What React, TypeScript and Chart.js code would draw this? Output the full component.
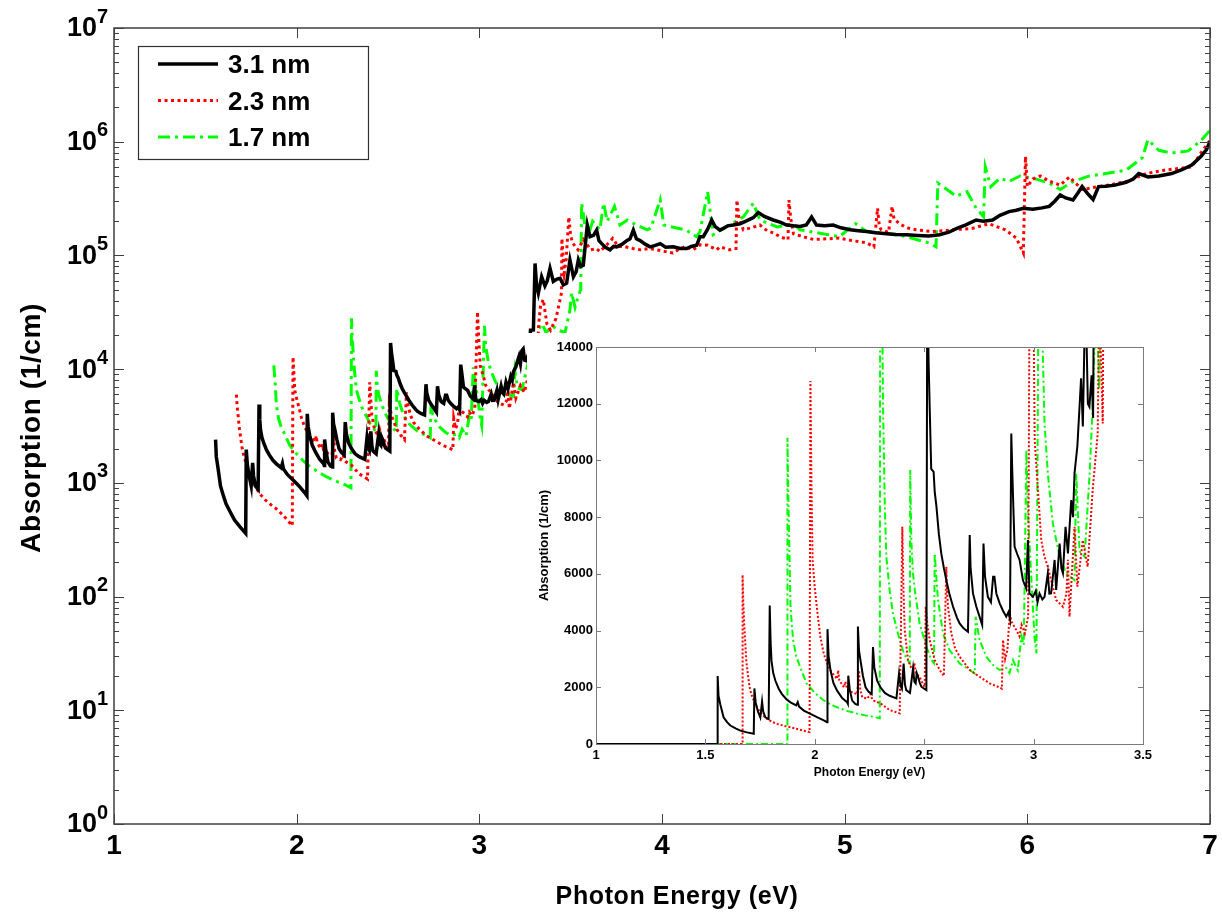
import { useEffect, useRef } from 'react';
import { Chart, registerables } from 'chart.js';

Chart.register(...registerables);

const FONT = '"Liberation Sans", Arial, Helvetica, sans-serif';

// Absorption spectra of the three nanowire diameters: [photon energy (eV), absorption (1/cm)]
const spectrum31nm: [number, number][] = [
  [1.556, 2400], [1.560, 1700], [1.568, 1400], [1.583, 940], [1.600, 760], [1.614, 650], [1.640, 540],
  [1.660, 470], [1.690, 410], [1.721, 360], [1.724, 1960], [1.730, 1450], [1.740, 1150], [1.751, 940],
  [1.759, 1500], [1.764, 1150], [1.774, 940], [1.789, 880], [1.794, 4880], [1.798, 3600], [1.802, 2940],
  [1.810, 2500], [1.820, 2230], [1.835, 1950], [1.850, 1760], [1.870, 1580], [1.889, 1470], [1.915, 1360],
  [1.922, 1480], [1.928, 1320], [1.950, 1180], [1.980, 1060], [2.010, 950], [2.041, 830], [2.056, 770],
  [2.058, 4050], [2.063, 3100], [2.072, 2590], [2.085, 2150], [2.102, 1880], [2.125, 1620], [2.148, 1470],
  [2.151, 1420], [2.153, 2410], [2.160, 1900], [2.171, 1530], [2.185, 1410], [2.195, 1380], [2.197, 4140],
  [2.202, 3300], [2.209, 2940], [2.220, 2400], [2.232, 2000], [2.245, 1850], [2.260, 1760], [2.266, 3420],
  [2.272, 2700], [2.285, 2230], [2.300, 2000], [2.320, 1800], [2.342, 1700], [2.373, 1610], [2.385, 2490],
  [2.392, 2050], [2.398, 1950], [2.406, 2840], [2.412, 2100], [2.418, 1900], [2.435, 1800], [2.449, 2670],
  [2.455, 2200], [2.461, 2140], [2.466, 2500], [2.472, 2370], [2.480, 2150], [2.487, 2020], [2.500, 1950],
  [2.510, 1900], [2.514, 17000], [2.520, 13500], [2.525, 11900], [2.532, 9700], [2.543, 9600], [2.548, 8900],
  [2.556, 8370], [2.567, 7400], [2.578, 6720], [2.590, 6200], [2.601, 5780], [2.615, 5300], [2.632, 4840],
  [2.650, 4450], [2.662, 4250], [2.680, 4080], [2.700, 3960], [2.708, 7370], [2.712, 6200], [2.723, 5310],
  [2.738, 4850], [2.753, 4490], [2.765, 4200], [2.771, 7070], [2.778, 5900], [2.791, 5190], [2.805, 5000],
  [2.815, 5900], [2.821, 5900], [2.830, 5300], [2.845, 4960], [2.860, 4700], [2.875, 4490], [2.885, 4650],
  [2.892, 4400], [2.898, 10950], [2.903, 9500], [2.906, 8720], [2.913, 6960], [2.925, 6700], [2.936, 6490],
  [2.951, 5780], [2.966, 5490], [2.974, 7190], [2.981, 5310], [2.997, 5190], [3.010, 5400], [3.018, 5000],
  [3.027, 5310], [3.040, 5100], [3.050, 5190], [3.065, 6020], [3.072, 5300], [3.080, 5310], [3.096, 6490],
  [3.103, 5430], [3.119, 7070], [3.127, 6200], [3.134, 6020], [3.146, 7660], [3.157, 6720], [3.172, 8600],
  [3.180, 8000], [3.187, 9540], [3.200, 10500], [3.210, 11900], [3.217, 12900], [3.225, 11200], [3.233, 14500],
  [3.240, 15000], [3.248, 12000], [3.255, 11890], [3.265, 13000], [3.272, 11500], [3.280, 22000], [3.296, 22100],
  [3.305, 85000], [3.313, 55000], [3.323, 46500], [3.341, 65000], [3.359, 54000], [3.372, 60000], [3.387, 77000],
  [3.405, 59000], [3.425, 62000], [3.442, 63000], [3.460, 55000], [3.478, 57000], [3.496, 91000], [3.515, 65000],
  [3.530, 72000], [3.542, 91000], [3.555, 80000], [3.569, 82000], [3.591, 185000], [3.606, 146000],
  [3.625, 150000], [3.642, 167000], [3.655, 135000], [3.670, 127000], [3.690, 118000], [3.715, 112000],
  [3.735, 120000], [3.752, 119000], [3.780, 125000], [3.807, 135000], [3.825, 140000], [3.843, 167000],
  [3.860, 140000], [3.880, 135000], [3.910, 125000], [3.935, 119000], [3.960, 122000], [3.990, 127000],
  [4.020, 118000], [4.062, 119000], [4.100, 115000], [4.135, 115000], [4.160, 120000], [4.190, 123000],
  [4.208, 146000], [4.226, 146000], [4.250, 170000], [4.272, 205000], [4.290, 180000], [4.317, 167000],
  [4.336, 173000], [4.360, 182000], [4.390, 185000], [4.427, 190000], [4.460, 200000], [4.500, 215000],
  [4.527, 238000], [4.560, 220000], [4.609, 205000], [4.650, 195000], [4.682, 185000], [4.720, 182000],
  [4.755, 180000], [4.790, 185000], [4.819, 218000], [4.846, 185000], [4.890, 182000], [4.937, 185000],
  [4.980, 175000], [5.030, 168000], [5.075, 165000], [5.120, 162000], [5.170, 158000], [5.230, 155000],
  [5.280, 153000], [5.340, 152000], [5.400, 150000], [5.460, 148000], [5.520, 152000], [5.570, 160000],
  [5.614, 173000], [5.660, 185000], [5.720, 205000], [5.760, 200000], [5.810, 205000], [5.850, 225000],
  [5.900, 243000], [5.940, 250000], [5.978, 260000], [6.030, 255000], [6.080, 262000], [6.120, 270000],
  [6.150, 300000], [6.180, 340000], [6.210, 320000], [6.250, 307000], [6.275, 350000], [6.300, 403000],
  [6.330, 350000], [6.360, 310000], [6.390, 403000], [6.430, 405000], [6.480, 415000], [6.540, 440000],
  [6.580, 470000], [6.610, 525000], [6.660, 490000], [6.720, 500000], [6.790, 525000], [6.850, 570000],
  [6.900, 624000], [6.950, 741000], [6.980, 850000], [7.000, 1000000],
];

const spectrum23nm: [number, number][] = [
  [1.670, 5960], [1.673, 5000], [1.678, 4120], [1.687, 2940], [1.695, 2400], [1.702, 2000], [1.710, 1750],
  [1.721, 1530], [1.735, 1300], [1.751, 1120], [1.765, 1000], [1.782, 880], [1.805, 780], [1.827, 710],
  [1.860, 640], [1.889, 590], [1.920, 530], [1.950, 470], [1.976, 420], [1.980, 12800], [1.985, 9000],
  [1.990, 6470], [2.000, 5500], [2.011, 4700], [2.025, 3800], [2.041, 3180], [2.056, 2850], [2.072, 2590],
  [2.090, 2400], [2.102, 2300], [2.107, 2600], [2.112, 2250], [2.133, 2000], [2.140, 2200], [2.147, 1950],
  [2.171, 1820], [2.194, 1760], [2.202, 2600], [2.208, 1900], [2.217, 1650], [2.240, 1600], [2.255, 1760],
  [2.262, 1580], [2.270, 1530], [2.300, 1430], [2.342, 1200], [2.388, 1080], [2.400, 7660], [2.405, 5500],
  [2.411, 4020], [2.426, 2960], [2.440, 2700], [2.449, 2610], [2.455, 2850], [2.462, 2500], [2.479, 2370],
  [2.495, 2100], [2.502, 2020], [2.507, 4840], [2.515, 4200], [2.525, 3670], [2.548, 2960], [2.571, 2610],
  [2.590, 2400], [2.601, 6250], [2.605, 5300], [2.609, 4840], [2.624, 3900], [2.640, 3400], [2.662, 3080],
  [2.708, 2610], [2.753, 2370], [2.799, 2140], [2.837, 2020], [2.855, 1950], [2.860, 3670], [2.870, 3000],
  [2.880, 3300], [2.891, 4610], [2.900, 4300], [2.921, 4020], [2.935, 3800], [2.945, 4200], [2.960, 3900],
  [2.975, 4500], [2.990, 32000], [2.997, 18000], [3.005, 10700], [3.020, 8950], [3.035, 7190], [3.050, 6600],
  [3.065, 6250], [3.080, 5780], [3.103, 5080], [3.134, 4840], [3.150, 5300], [3.157, 6500], [3.164, 4490],
  [3.187, 7660], [3.200, 5550], [3.225, 7190], [3.247, 6250], [3.270, 8950], [3.293, 10950], [3.300, 16000],
  [3.316, 11300], [3.325, 25000], [3.335, 36000], [3.350, 41000], [3.370, 25000], [3.390, 22000],
  [3.420, 28000], [3.450, 47000], [3.452, 141000], [3.465, 70000], [3.475, 91000], [3.490, 218000],
  [3.500, 150000], [3.510, 129000], [3.540, 112000], [3.570, 138000], [3.610, 112000], [3.640, 115000],
  [3.660, 108000], [3.700, 125000], [3.730, 141000], [3.760, 120000], [3.790, 120000], [3.840, 115000],
  [3.880, 112000], [3.930, 115000], [3.970, 112000], [4.020, 108000], [4.060, 105000], [4.100, 115000],
  [4.130, 120000], [4.170, 112000], [4.208, 124000], [4.250, 123000], [4.300, 112000], [4.317, 119000],
  [4.370, 112000], [4.390, 115000], [4.405, 115000], [4.410, 307000], [4.420, 220000], [4.445, 168000],
  [4.490, 175000], [4.536, 185000], [4.575, 165000], [4.609, 158000], [4.650, 145000], [4.690, 138000],
  [4.695, 307000], [4.705, 210000], [4.720, 155000], [4.780, 145000], [4.830, 138000], [4.900, 140000],
  [4.970, 142000], [5.040, 135000], [5.120, 129000], [5.160, 119000], [5.180, 260000], [5.190, 180000],
  [5.200, 168000], [5.240, 160000], [5.260, 270000], [5.270, 210000], [5.300, 190000], [5.340, 175000],
  [5.390, 168000], [5.480, 162000], [5.590, 168000], [5.700, 173000], [5.790, 190000], [5.880, 168000],
  [5.940, 142000], [5.978, 105000], [5.990, 741000], [6.000, 403000], [6.030, 470000], [6.070, 500000],
  [6.120, 450000], [6.180, 415000], [6.230, 490000], [6.300, 380000], [6.390, 403000], [6.460, 420000],
  [6.540, 446000], [6.650, 525000], [6.750, 562000], [6.900, 600000], [6.950, 795000], [7.000, 1030000],
];

const spectrum17nm: [number, number][] = [
  [1.875, 10800], [1.879, 8800], [1.883, 7190], [1.889, 4840], [1.895, 4200], [1.901, 3670], [1.915, 3100],
  [1.932, 2730], [1.962, 2140], [2.000, 1800], [2.038, 1550], [2.075, 1380], [2.114, 1260], [2.150, 1160],
  [2.190, 1080], [2.230, 1010], [2.266, 960], [2.297, 905], [2.300, 28000], [2.305, 18000], [2.312, 11890],
  [2.320, 8370], [2.327, 6600], [2.342, 5430], [2.357, 4610], [2.380, 3900], [2.402, 3310], [2.420, 3000],
  [2.434, 2850], [2.436, 9660], [2.441, 7190], [2.449, 6000], [2.457, 5430], [2.479, 4250], [2.510, 3430],
  [2.533, 2960], [2.545, 2850], [2.548, 6720], [2.563, 5080], [2.586, 3900], [2.616, 3310], [2.662, 2840],
  [2.708, 2610], [2.731, 2490], [2.735, 4490], [2.753, 3670], [2.784, 3080], [2.814, 2790], [2.845, 2610],
  [2.875, 2680], [2.890, 2500], [2.906, 2960], [2.918, 2750], [2.928, 2600], [2.944, 3800], [2.955, 3500],
  [2.967, 10360], [2.975, 8000], [2.990, 5800], [3.005, 3670], [3.013, 3200], [3.028, 24000], [3.035, 16000],
  [3.050, 11300], [3.065, 9540], [3.088, 7780], [3.119, 6600], [3.149, 6020], [3.187, 5780], [3.195, 9540],
  [3.210, 6800], [3.233, 6600], [3.256, 9540], [3.270, 11890], [3.286, 16000], [3.300, 12500], [3.320, 22000],
  [3.345, 25000], [3.365, 21000], [3.400, 24000], [3.430, 22000], [3.469, 21000], [3.496, 33000],
  [3.505, 47000], [3.524, 35000], [3.542, 44000], [3.555, 50000], [3.560, 288000], [3.580, 178000],
  [3.600, 157000], [3.620, 200000], [3.660, 168000], [3.680, 288000], [3.700, 200000], [3.740, 270000],
  [3.770, 185000], [3.810, 205000], [3.860, 185000], [3.920, 168000], [3.940, 175000], [3.990, 309000],
  [4.010, 185000], [4.080, 174000], [4.130, 168000], [4.190, 146000], [4.208, 162000], [4.250, 363000],
  [4.280, 152000], [4.350, 178000], [4.445, 218000], [4.500, 288000], [4.536, 205000], [4.630, 178000],
  [4.720, 190000], [4.755, 168000], [4.864, 157000], [4.970, 146000], [5.060, 190000], [5.120, 162000],
  [5.230, 157000], [5.340, 146000], [5.460, 129000], [5.500, 119000], [5.510, 432000], [5.560, 380000],
  [5.610, 331000], [5.670, 363000], [5.720, 260000], [5.760, 219000], [5.770, 600000], [5.800, 403000],
  [5.850, 479000], [5.900, 447000], [5.960, 500000], [6.030, 479000], [6.120, 432000], [6.180, 380000],
  [6.250, 447000], [6.340, 500000], [6.430, 525000], [6.540, 562000], [6.630, 724000], [6.660, 1040000],
  [6.720, 840000], [6.790, 795000], [6.880, 830000], [6.950, 1020000], [7.000, 1260000],
];

const seriesLabels = ['3.1 nm', '2.3 nm', '1.7 nm'];
const seriesSpectra = [spectrum31nm, spectrum23nm, spectrum17nm];
const seriesColors = ['#000000', '#ff0000', '#00ff00'];

// Axis ticks
const mainXTicks = [1, 2, 3, 4, 5, 6, 7];
const mainYDecades = [0, 1, 2, 3, 4, 5, 6, 7];
const insetXTicks = [1, 1.5, 2, 2.5, 3, 3.5];
const insetYTicks = [0, 2000, 4000, 6000, 8000, 10000, 12000, 14000];
// Below the absorption edge each spectrum is zero from this energy on (visible on the linear inset)
const insetBaselineStart = 1;

const mainDash = [[], [3, 3.5], [12, 5, 3, 5]];
const mainWidth = [3.5, 3, 3];
const insetDash = [[], [2, 2], [7, 3, 2, 3]];
const insetWidth = [2, 2, 2];

const toPoints = (s: [number, number][]) => s.map(([x, y]) => ({ x, y }));

const mainFrame = {
  id: 'mainFrame',
  afterDatasetsDraw(chart: any) {
    const { ctx, chartArea: a, scales } = chart;
    const xs = scales.x;
    const ys = scales.y;
    ctx.save();
    ctx.setLineDash([]);
    ctx.strokeStyle = '#404040';
    ctx.lineWidth = 1.5;
    ctx.strokeRect(a.left, a.top, a.right - a.left, a.bottom - a.top);

    ctx.lineWidth = 1;
    ctx.beginPath();
    for (const v of mainXTicks) {
      const px = Math.round(xs.getPixelForValue(v)) + 0.5;
      ctx.moveTo(px, a.bottom); ctx.lineTo(px, a.bottom - 10);
      ctx.moveTo(px, a.top); ctx.lineTo(px, a.top + 10);
    }
    for (const d of mainYDecades) {
      const py = Math.round(ys.getPixelForValue(Math.pow(10, d))) + 0.5;
      ctx.moveTo(a.left, py); ctx.lineTo(a.left + 10, py);
      ctx.moveTo(a.right, py); ctx.lineTo(a.right - 10, py);
      if (d < mainYDecades[mainYDecades.length - 1]) {
        for (let m = 2; m <= 9; m++) {
          const pm = Math.round(ys.getPixelForValue(m * Math.pow(10, d))) + 0.5;
          ctx.moveTo(a.left, pm); ctx.lineTo(a.left + 5, pm);
          ctx.moveTo(a.right, pm); ctx.lineTo(a.right - 5, pm);
        }
      }
    }
    ctx.stroke();

    ctx.fillStyle = '#000';
    // x tick labels
    ctx.font = `bold 28px ${FONT}`;
    ctx.textAlign = 'center';
    ctx.textBaseline = 'middle';
    for (const v of mainXTicks) ctx.fillText(String(v), xs.getPixelForValue(v), a.bottom + 22);
    // y tick labels: 10 with superscript exponent
    for (const d of mainYDecades) {
      const py = ys.getPixelForValue(Math.pow(10, d));
      ctx.font = `bold 27px ${FONT}`;
      ctx.textAlign = 'right';
      ctx.fillText('10', a.left - 17, py + 1);
      ctx.font = `bold 20px ${FONT}`;
      ctx.textAlign = 'left';
      ctx.fillText(String(d), a.left - 17, py - 11);
    }
    // axis titles
    ctx.font = `bold 25px ${FONT}`;
    ctx.textAlign = 'center';
    (ctx as any).letterSpacing = '0.6px';
    ctx.fillText('Photon Energy (eV)', 677, a.bottom + 73);
    ctx.save();
    ctx.translate(32, 428);
    ctx.rotate(-Math.PI / 2);
    ctx.font = `bold 28px ${FONT}`;
    ctx.fillText('Absorption (1/cm)', 0, 0);
    ctx.restore();
    (ctx as any).letterSpacing = '0px';

    // legend
    const lx = a.left + 24;
    const ly = a.top + 18;
    ctx.fillStyle = '#fff';
    ctx.fillRect(lx, ly, 230, 113);
    ctx.strokeStyle = '#303030';
    ctx.lineWidth = 1.2;
    ctx.strokeRect(lx + 0.5, ly + 0.5, 230, 113);
    seriesLabels.forEach((label, i) => {
      const ry = ly + 18 + i * 36.5;
      ctx.beginPath();
      ctx.setLineDash(mainDash[i]);
      ctx.strokeStyle = seriesColors[i];
      ctx.lineWidth = mainWidth[i];
      ctx.moveTo(lx + 20, ry);
      ctx.lineTo(lx + 80, ry);
      ctx.stroke();
      ctx.setLineDash([]);
      ctx.fillStyle = '#000';
      ctx.font = `bold 26px ${FONT}`;
      ctx.textAlign = 'left';
      ctx.textBaseline = 'middle';
      ctx.fillText(label, lx + 90, ry + 2);
    });
    ctx.restore();
  },
};

const insetFrame = {
  id: 'insetFrame',
  beforeDraw(chart: any) {
    const { ctx, width, height } = chart;
    ctx.save();
    ctx.fillStyle = '#fff';
    ctx.fillRect(0, 0, width, height);
    ctx.restore();
  },
  afterDatasetsDraw(chart: any) {
    const { ctx, chartArea: a, scales } = chart;
    const xs = scales.x;
    const ys = scales.y;
    ctx.save();
    ctx.setLineDash([]);
    ctx.strokeStyle = '#7a7a7a';
    ctx.lineWidth = 1;
    ctx.strokeRect(a.left + 0.5, a.top + 0.5, a.right - a.left, a.bottom - a.top);
    ctx.beginPath();
    for (const v of insetXTicks) {
      const px = Math.round(xs.getPixelForValue(v)) + 0.5;
      ctx.moveTo(px, a.bottom); ctx.lineTo(px, a.bottom - 5);
      ctx.moveTo(px, a.top); ctx.lineTo(px, a.top + 5);
    }
    for (const v of insetYTicks) {
      const py = Math.round(ys.getPixelForValue(v)) + 0.5;
      ctx.moveTo(a.left, py); ctx.lineTo(a.left + 5, py);
      ctx.moveTo(a.right, py); ctx.lineTo(a.right - 5, py);
    }
    ctx.stroke();

    ctx.fillStyle = '#000';
    ctx.font = `bold 13px ${FONT}`;
    ctx.textBaseline = 'middle';
    ctx.textAlign = 'right';
    for (const v of insetYTicks) ctx.fillText(String(v), a.left - 3, ys.getPixelForValue(v));
    ctx.textAlign = 'center';
    for (const v of insetXTicks) ctx.fillText(String(v), xs.getPixelForValue(v), a.bottom + 11);
    ctx.font = `bold 12px ${FONT}`;
    ctx.fillText('Photon Energy (eV)', (a.left + a.right) / 2, a.bottom + 29);
    ctx.save();
    ctx.translate(a.left - 52, (a.top + a.bottom) / 2);
    ctx.rotate(-Math.PI / 2);
    ctx.font = `bold 13px ${FONT}`;
    ctx.fillText('Absorption (1/cm)', 0, 0);
    ctx.restore();
    ctx.restore();
  },
};

export default function App() {
  const mainRef = useRef<HTMLCanvasElement>(null);
  const insetRef = useRef<HTMLCanvasElement>(null);

  useEffect(() => {
    if (!mainRef.current || !insetRef.current) return;

    const mainChart = new Chart(mainRef.current, {
      type: 'line',
      data: {
        datasets: seriesSpectra.map((s, i) => ({
          label: seriesLabels[i],
          data: toPoints(s),
          borderColor: seriesColors[i],
          borderWidth: mainWidth[i],
          borderDash: mainDash[i],
          pointRadius: 0,
          fill: false,
          tension: 0,
        })),
      },
      options: {
        animation: false,
        responsive: false,
        maintainAspectRatio: false,
        events: [],
        layout: { padding: { left: 114, top: 28, right: 12, bottom: 91 } },
        scales: {
          x: { type: 'linear', min: 1, max: 7, display: false },
          y: { type: 'logarithmic', min: 1, max: 1e7, display: false },
        },
        plugins: { legend: { display: false }, tooltip: { enabled: false } },
      },
      plugins: [mainFrame],
    } as any);

    const insetChart = new Chart(insetRef.current, {
      type: 'line',
      data: {
        datasets: seriesSpectra.map((s, i) => ({
          label: seriesLabels[i],
          data: [{ x: insetBaselineStart, y: 0 }, { x: s[0][0], y: 0 }, ...toPoints(s)],
          borderColor: seriesColors[i],
          borderWidth: insetWidth[i],
          borderDash: insetDash[i],
          pointRadius: 0,
          fill: false,
          tension: 0,
          clip: 0,
        })),
      },
      options: {
        animation: false,
        responsive: false,
        maintainAspectRatio: false,
        events: [],
        layout: { padding: { left: 69, top: 14, right: 17, bottom: 46 } },
        scales: {
          x: { type: 'linear', min: 1, max: 3.5, display: false },
          y: { type: 'linear', min: 0, max: 14000, display: false },
        },
        plugins: { legend: { display: false }, tooltip: { enabled: false } },
      },
      plugins: [insetFrame],
    } as any);

    return () => {
      mainChart.destroy();
      insetChart.destroy();
    };
  }, []);

  return (
    <div style={{ position: 'absolute', left: 0, top: 0, width: 1222, height: 915, background: '#fff' }}>
      <canvas
        ref={mainRef}
        width={1222}
        height={915}
        style={{ position: 'absolute', left: 0, top: 0, width: 1222, height: 915 }}
      />
      <canvas
        ref={insetRef}
        width={633}
        height={457}
        style={{ position: 'absolute', left: 527, top: 333, width: 633, height: 457 }}
      />
    </div>
  );
}
